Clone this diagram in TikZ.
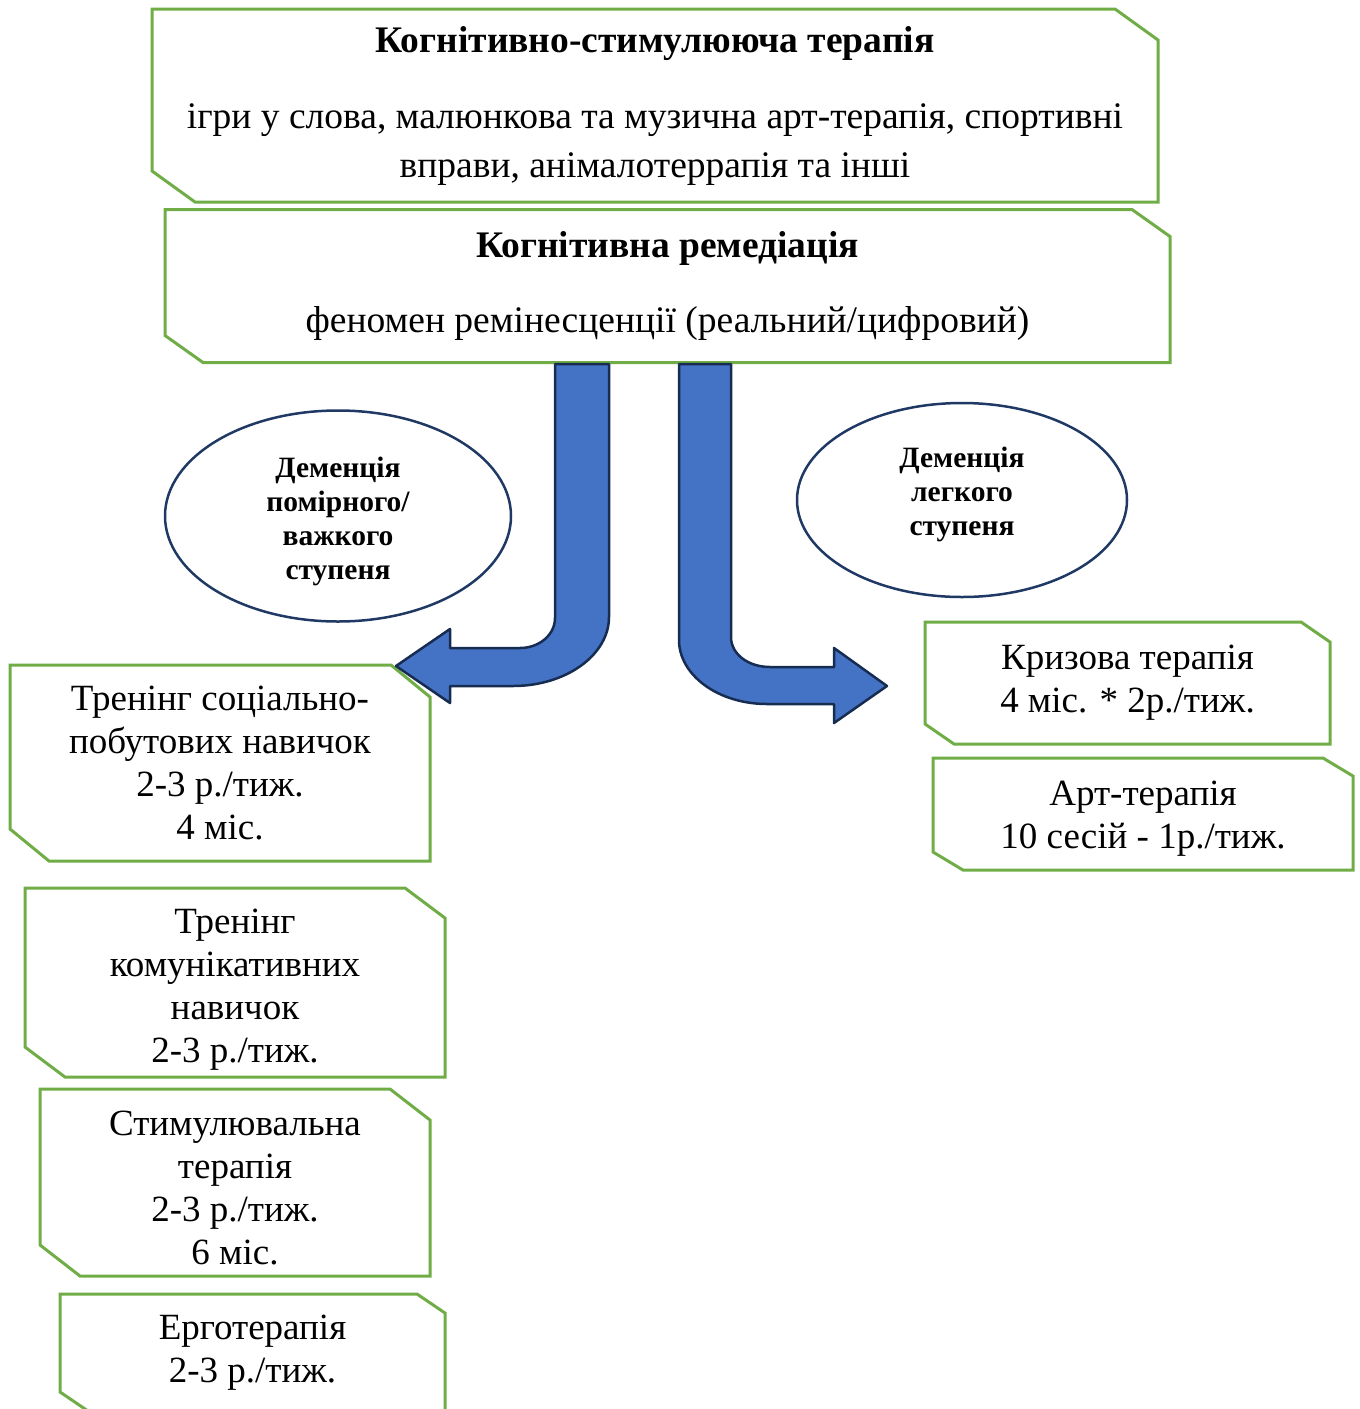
\documentclass[tikz,border=0pt]{standalone}
\usepackage{fontspec}
\setmainfont{Liberation Serif}
\usetikzlibrary{shapes.geometric}
\definecolor{boxgreen}{HTML}{70AD47}
\definecolor{arrowblue}{HTML}{4472C4}
\definecolor{arrownavy}{HTML}{172C51}
\definecolor{ovalnavy}{HTML}{1F3864}
\begin{document}
\begin{tikzpicture}
        [x=1pt, y=-1pt,
        holder/.style={inner sep=0pt, outer sep=0pt, align=center},
        big/.style={font=\fontsize{37.5}{49}\selectfont},
        small/.style={font=\fontsize{37}{43}\selectfont},
        oval/.style={ellipse, draw=ovalnavy, line width=2.5pt, inner sep=0pt, align=center,
                     font=\fontsize{29.5}{34}\selectfont\bfseries},
        edge/.style={boxgreen, line width=3pt},
        bentarrow/.style={fill=arrowblue, draw=arrownavy, line width=2.5pt, line join=round}]

        \useasboundingbox (0,0) rectangle (1360,1409);

        % top blocks
        \node[holder, big, minimum width=1006pt, minimum height=193pt] (cst) at (655,105.5)
            {\textbf{Когнітивно-стимулююча терапія}\\[27pt]
             ігри у слова, малюнкова та музична арт-терапія, спортивні\\
             вправи, анімалотеррапія та інші};
        \node[holder, big, minimum width=1005pt, minimum height=153pt] (rem) at (667.5,286)
            {\textbf{Когнітивна ремедіація}\\[26pt]
             феномен ремінесценції (реальний/цифровий)};

        % left column
        \node[holder, small, minimum width=420pt, minimum height=196pt] (social) at (220,763)
            {Тренінг соціально-\\побутових навичок\\2-3 р./тиж.\\4 міс.};
        \node[holder, small, minimum width=420pt, minimum height=189pt] (comm) at (235,982.5)
            {\rule{0pt}{39pt}Тренінг\\комунікативних\\навичок\\2-3 р./тиж.};
        \node[holder, small, minimum width=390pt, minimum height=187pt] (stim) at (235,1182.5)
            {\rule{0pt}{35pt}Стимулювальна\\терапія\\2-3 р./тиж.\\6 міс.};
        \node[holder, small, minimum width=385pt, minimum height=117pt] (ergo) at (252.5,1352.5)
            {Ерготерапія\\2-3 р./тиж.};

        % right column
        \node[holder, small, minimum width=405pt, minimum height=122pt] (crisis) at (1127.5,683)
            {Кризова терапія\\4 міс. * 2р./тиж.};
        \node[holder, small, minimum width=420pt, minimum height=112pt] (art) at (1143,814)
            {\rule{0pt}{33pt}Арт-терапія\\10 сесій - 1р./тиж.};

        % snipped corners: top right and bottom left
        \foreach \n/\cx/\cy in {cst/43/31, rem/38/27, social/39/32, comm/40/30, stim/40/31,
                                ergo/28/19, crisis/29/20, art/30/18}
            \draw[edge] (\n.north west) -- ([xshift=-\cx pt]\n.north east)
                -- ([yshift=-\cy pt]\n.north east) -- (\n.south east)
                -- ([xshift=\cx pt]\n.south west) -- ([yshift=\cy pt]\n.south west) -- cycle;

        % degree of dementia
        \node[oval, minimum width=346pt, minimum height=211pt] (severe) at (338,516)
            {\rule{0pt}{32pt}Деменція\\помірного/\\важкого\\ступеня};
        \node[oval, minimum width=330pt, minimum height=194pt] (mild) at (962,500)
            {Деменція\\легкого\\ступеня\rule[-18pt]{0pt}{18pt}};

        % bent arrows out of the remediation block
        \draw[bentarrow] (555,364) -- (609,364) -- (609,617)
            .. controls (609,655) and (566,686) .. (513,686)
            -- (450,686) -- (450,703) -- (396,666) -- (450,629) -- (450,648) -- (520,648)
            .. controls (539,648) and (555,635) .. (555,618) -- cycle;
        \draw[bentarrow] (679,364) -- (731,364) -- (731,637)
            .. controls (731,654) and (748,667) .. (770,667)
            -- (834,667) -- (834,648) -- (887,686) -- (834,723) -- (834,704) -- (767,704)
            .. controls (718,704) and (679,675) .. (679,640) -- cycle;
    \end{tikzpicture}
\end{document}
